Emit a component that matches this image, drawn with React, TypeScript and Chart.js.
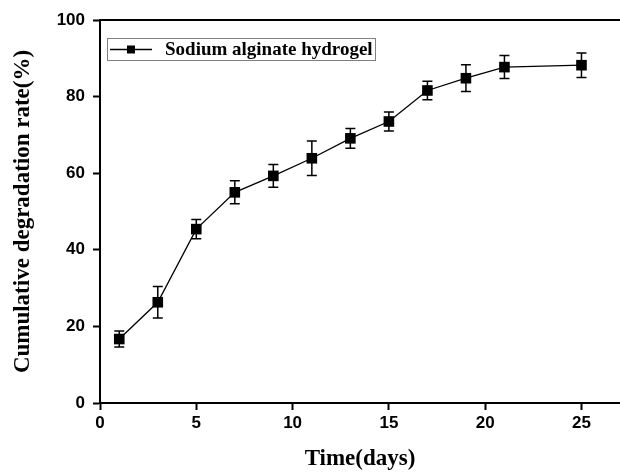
import React, { useEffect, useRef } from 'react';
import { Chart, registerables } from 'chart.js';

Chart.register(...registerables);

const days = [1, 3, 5, 7, 9, 11, 13, 15, 17, 19, 21, 25];
const rates = [16.7, 26.3, 45.4, 55.0, 59.3, 63.9, 69.1, 73.5, 81.6, 84.8, 87.7, 88.2];
const errors = [2.1, 4.1, 2.5, 3.0, 3.0, 4.5, 2.6, 2.5, 2.4, 3.5, 3.0, 3.2];
const seriesLabel = 'Sodium alginate hydrogel';
const xTitle = 'Time(days)';
const yTitle = 'Cumulative degradation rate(%)';

export default function App() {
  const ref = useRef<HTMLCanvasElement>(null);

  useEffect(() => {
    document.body.style.margin = '0';
    const canvas = ref.current;
    if (!canvas) return;

    const errorBars = {
      id: 'errorBars',
      beforeDatasetsDraw(chart: any) {
        const { ctx, scales } = chart;
        const xs = scales.x;
        const ys = scales.y;
        ctx.save();
        ctx.strokeStyle = '#000';
        ctx.lineWidth = 1.5;
        days.forEach((d, i) => {
          const px = xs.getPixelForValue(d);
          const top = ys.getPixelForValue(rates[i] + errors[i]);
          const bot = ys.getPixelForValue(rates[i] - errors[i]);
          ctx.beginPath();
          ctx.moveTo(px, top);
          ctx.lineTo(px, bot);
          ctx.moveTo(px - 5, top);
          ctx.lineTo(px + 5, top);
          ctx.moveTo(px - 5, bot);
          ctx.lineTo(px + 5, bot);
          ctx.stroke();
        });
        ctx.restore();
      },
    };

    const frame = {
      id: 'frame',
      afterDraw(chart: any) {
        const { ctx, chartArea } = chart;
        ctx.save();
        ctx.fillStyle = '#000';
        ctx.fillRect(chartArea.left - 1, chartArea.top - 1, chartArea.right - chartArea.left + 1, 2);
        ctx.strokeStyle = '#808080';
        ctx.lineWidth = 1;
        ctx.strokeRect(107.5, 38.5, 268, 22);
        ctx.strokeStyle = '#000';
        ctx.lineWidth = 1.3;
        ctx.beginPath();
        ctx.moveTo(110, 49.5);
        ctx.lineTo(152, 49.5);
        ctx.stroke();
        ctx.fillRect(127, 45.5, 8, 8);
        ctx.font = 'bold 19px "Liberation Serif"';
        ctx.textBaseline = 'middle';
        ctx.textAlign = 'left';
        ctx.fillText(seriesLabel, 165, 50);
        ctx.restore();
      },
    };

    const chart = new Chart(canvas, {
      type: 'line',
      data: {
        datasets: [
          {
            label: seriesLabel,
            data: days.map((d, i) => ({ x: d, y: rates[i] })),
            borderColor: '#000',
            borderWidth: 1.3,
            backgroundColor: '#000',
            pointStyle: 'rect',
            pointRadius: 7.5,
            pointBorderWidth: 0,
            pointBackgroundColor: '#000',
            tension: 0,
          },
        ],
      },
      options: {
        responsive: false,
        animation: false,
        devicePixelRatio: 1,
        layout: { autoPadding: false, padding: { top: 20, right: 0, left: 0, bottom: 0 } },
        plugins: { legend: { display: false }, tooltip: { enabled: false } },
        scales: {
          x: {
            type: 'linear',
            min: 0,
            max: 27,
            afterBuildTicks: (axis: any) => {
              axis.ticks = axis.ticks.filter((t: any) => t.value % 5 === 0);
            },
            afterFit: (scale: any) => {
              scale.height = 73;
              scale.paddingRight = 0;
              scale.paddingLeft = 0;
            },
            ticks: {
              stepSize: 5,
              color: '#000',
              padding: 3,
              maxRotation: 0,
              font: { family: '"Liberation Sans"', weight: 'bold', size: 17 },
            },
            grid: {
              drawOnChartArea: false,
              drawTicks: true,
              tickLength: 7,
              tickWidth: 2,
              tickColor: '#000',
            },
            border: { display: true, color: '#000', width: 2 },
            title: {
              display: true,
              text: xTitle,
              color: '#000',
              font: { family: '"Liberation Serif"', weight: 'bold', size: 23 },
              padding: { top: 0, bottom: 3 },
            },
          },
          y: {
            type: 'linear',
            min: 0,
            max: 100,
            afterFit: (scale: any) => {
              scale.width = 100;
            },
            ticks: {
              stepSize: 20,
              color: '#000',
              padding: 8,
              font: { family: '"Liberation Sans"', weight: 'bold', size: 17 },
            },
            grid: {
              drawOnChartArea: false,
              drawTicks: true,
              tickLength: 7,
              tickWidth: 2,
              tickColor: '#000',
            },
            border: { display: true, color: '#000', width: 2 },
            title: {
              display: true,
              text: yTitle,
              color: '#000',
              font: { family: '"Liberation Serif"', weight: 'bold', size: 23 },
              padding: { top: 9, bottom: 0 },
            },
          },
        },
      },
      plugins: [errorBars, frame],
    });

    return () => chart.destroy();
  }, []);

  return (
    <div style={{ width: 620, height: 476, position: 'relative' }}>
      <canvas ref={ref} width={620} height={476} style={{ display: 'block' }} />
    </div>
  );
}
